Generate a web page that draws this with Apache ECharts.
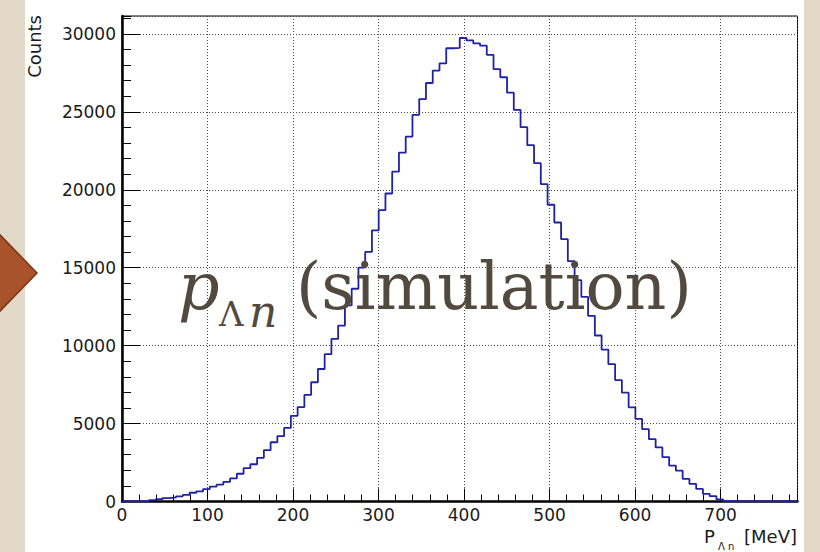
<!DOCTYPE html>
<html>
<head>
<meta charset="utf-8">
<script src="https://cdn.jsdelivr.net/npm/echarts@6/dist/echarts.min.js"></script>
<style>
  html, body { margin: 0; padding: 0; }
  body { width: 820px; height: 552px; background: #e2d9c8; position: relative; overflow: hidden; }
  #panel { position: absolute; left: 25px; top: 0; width: 779px; height: 552px; background: #ffffff; }
  #chart { position: absolute; left: 0; top: 0; width: 820px; height: 552px; }
</style>
</head>
<body>
<div id="panel"></div>
<div id="chart"></div>
<script>
// Histogram of P_Λn: 100 bins of 7.9 MeV from 0 to 790 MeV
const binWidth = 7.9;
const binCount = 100;
const counts = [
  0, 0, 0, 0, 90, 150, 220, 260, 330, 420,
  560, 650, 800, 960, 1080, 1260, 1480, 1780, 2140, 2390,
  2800, 3290, 3800, 4190, 4720, 5500, 6060, 6840, 7650, 8500,
  9450, 10430, 11290, 12580, 13650, 15000, 16010, 17400, 18690, 19760,
  21160, 22380, 23410, 24810, 25820, 26850, 27650, 28110, 29080, 29100,
  29740, 29580, 29400, 29250, 28660, 27740, 27220, 26230, 25130, 24020,
  22860, 21710, 20360, 19040, 17900, 16830, 15420, 14200, 13130, 11910,
  10650, 9750, 8810, 7790, 6980, 6040, 5300, 4640, 4000, 3470,
  2850, 2300, 1980, 1450, 1130, 810, 490, 340, 130, 30,
  0, 0, 0, 0, 0, 0, 0, 0, 0, 0
];
const xTicks = [0, 100, 200, 300, 400, 500, 600, 700];
const yTicks = [0, 5000, 10000, 15000, 20000, 25000, 30000];
const xMax = binWidth * binCount;
const yMax = 31150;

// step outline: each point sits on a bin's low edge, plus the closing high edge
const outline = counts.map((c, i) => [i * binWidth, c]);
outline.push([binCount * binWidth, counts[binCount - 1]]);

const tickFont = 'DejaVu Sans';
const captionFont = 'DejaVu Serif';
const captionColor = '#524a3e';
const chart = echarts.init(document.getElementById('chart'), null, { renderer: 'svg' });

const dotted = { color: '#4a4a4a', width: 1, type: [1, 2] };

chart.setOption({
  animation: false,
  backgroundColor: 'transparent',
  grid: { left: 122, right: 22.5, top: 16, bottom: 50.5, show: true, borderColor: '#000', borderWidth: 1, containLabel: false },
  xAxis: [
    {
      type: 'value', min: 0, max: xMax, interval: 100,
      axisLine: { show: true, onZero: false, lineStyle: { color: '#000', width: 2.5 } },
      axisTick: { show: true, inside: true, length: 13, lineStyle: { color: '#000', width: 1 } },
      axisLabel: {
        show: true, margin: 5, color: '#1a1a1a', fontFamily: tickFont, fontSize: 17,
        showMaxLabel: false,
        formatter: v => (xTicks.includes(v) ? String(v) : '')
      },
      splitLine: { show: true, lineStyle: dotted }
    },
    {
      type: 'value', min: 0, max: xMax, interval: 20, position: 'bottom',
      axisLine: { show: false },
      axisTick: { show: true, inside: true, length: 7, lineStyle: { color: '#000', width: 1 } },
      axisLabel: { show: false },
      splitLine: { show: false }
    }
  ],
  yAxis: [
    {
      type: 'value', min: 0, max: yMax, interval: 5000,
      axisLine: { show: true, onZero: false, lineStyle: { color: '#000', width: 2.5 } },
      axisTick: { show: true, inside: true, length: 18, lineStyle: { color: '#000', width: 1 } },
      axisLabel: {
        show: true, margin: 6, color: '#1a1a1a', fontFamily: tickFont, fontSize: 17,
        showMaxLabel: false,
        formatter: v => (yTicks.includes(v) ? String(v) : '')
      },
      splitLine: { show: true, lineStyle: dotted }
    },
    {
      type: 'value', min: 0, max: yMax, interval: 1000, position: 'left', offset: 0,
      axisLine: { show: false },
      axisTick: { show: true, inside: true, length: 9, lineStyle: { color: '#000', width: 1 } },
      axisLabel: { show: false },
      splitLine: { show: false }
    }
  ],
  series: [
    {
      type: 'line',
      xAxisIndex: 0, yAxisIndex: 0,
      data: outline,
      step: 'end',
      symbol: 'none',
      lineStyle: { color: '#2020a6', width: 1.8 },
      z: 5
    }
  ],
  graphic: [
    // slide arrow on the left margin
    {
      type: 'polygon', z: 10,
      shape: { points: [[-12, 222.5], [37, 273], [-12, 323.5]] },
      style: { fill: '#a8532b', stroke: '#7a3516', lineWidth: 1.5 }
    },
    // axis titles
    {
      type: 'text', z: 10, x: 34, y: 15, rotation: Math.PI / 2,
      style: { text: 'Counts', fontFamily: tickFont, fontSize: 18, fill: '#1a1a1a', align: 'right', verticalAlign: 'middle' }
    },
    {
      type: 'text', z: 10, x: 704, y: 536,
      style: { text: 'P', fontFamily: tickFont, fontSize: 18, fill: '#1a1a1a', align: 'left', verticalAlign: 'middle' }
    },
    {
      type: 'text', z: 10, x: 718, y: 546,
      style: { text: 'Λ n', fontFamily: tickFont, fontSize: 10, fill: '#1a1a1a', align: 'left', verticalAlign: 'middle' }
    },
    {
      type: 'text', z: 10, x: 797, y: 536,
      style: { text: '[MeV]', fontFamily: tickFont, fontSize: 18, fill: '#1a1a1a', align: 'right', verticalAlign: 'middle' }
    },
    // slide caption over the plot
    {
      type: 'text', z: 20, x: 178, y: 286.5,
      style: { text: 'p', fontFamily: captionFont, fontStyle: 'italic', fontSize: 65, fill: captionColor, align: 'left', verticalAlign: 'middle' }
    },
    {
      type: 'text', z: 20, x: 219, y: 314,
      style: { text: 'Λ', fontFamily: captionFont, fontSize: 34, fill: captionColor, align: 'left', verticalAlign: 'middle' }
    },
    {
      type: 'text', z: 20, x: 249, y: 311,
      style: { text: 'n', fontFamily: captionFont, fontStyle: 'italic', fontSize: 44, fill: captionColor, align: 'left', verticalAlign: 'middle' }
    },
    {
      type: 'text', z: 20, x: 296, y: 286.5,
      style: { text: '(simulation)', fontFamily: captionFont, fontSize: 65, fill: captionColor, align: 'left', verticalAlign: 'middle' }
    }
  ]
});
</script>
</body>
</html>
